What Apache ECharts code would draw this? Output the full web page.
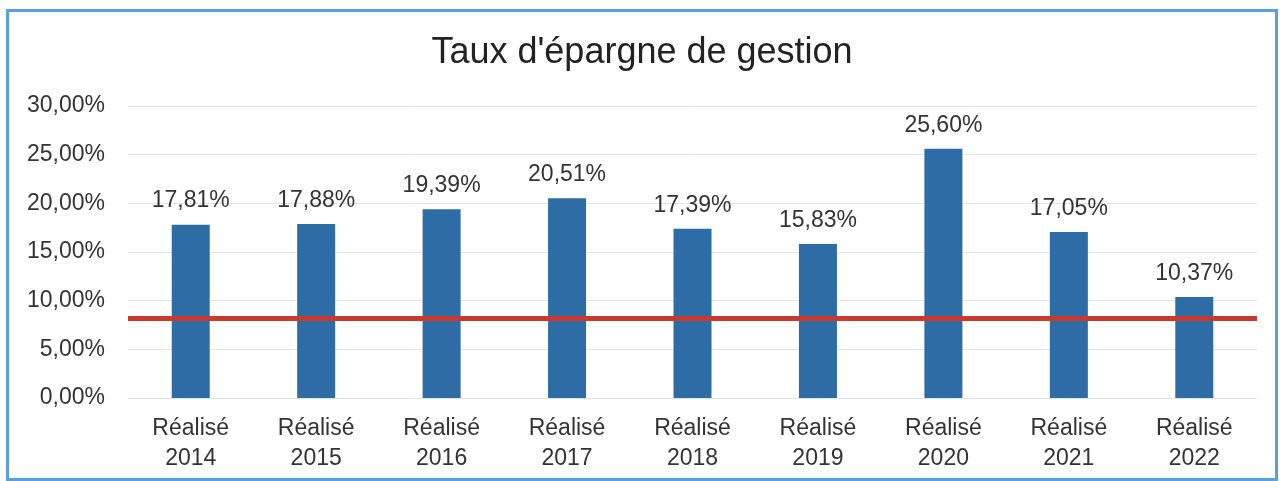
<!DOCTYPE html>
<html>
<head>
<meta charset="utf-8">
<script src="https://cdn.jsdelivr.net/npm/echarts@6/dist/echarts.min.js"></script>
<style>
  html, body { margin: 0; padding: 0; background: #fff; }
  #frame {
    position: absolute; left: 6px; top: 9px; width: 1266px; height: 466px;
    border: 3px solid #5aa0dc; background: #fff;
  }
  #chart { width: 1266px; height: 466px; }
</style>
</head>
<body>
<div id="frame"><div id="chart"></div></div>
<script>
var years = ['2014', '2015', '2016', '2017', '2018', '2019', '2020', '2021', '2022'];
var taux = [17.81, 17.88, 19.39, 20.51, 17.39, 15.83, 25.60, 17.05, 10.37];
var seuil = 8.2;

var fr = function (v) { return v.toFixed(2).replace('.', ',') + '%'; };

var chart = echarts.init(document.getElementById('chart'));
var option = {
  animation: false,
  textStyle: { fontFamily: 'Liberation Sans, Arial, sans-serif' },
  title: {
    text: "Taux d'épargne de gestion",
    left: 'center',
    top: 18,
    textStyle: { fontSize: 36, fontWeight: 'normal', color: '#222' }
  },
  grid: { left: 119, right: 18, top: 94, bottom: 80 },
  xAxis: {
    type: 'category',
    data: years.map(function (y) { return 'Réalisé\n' + y; }),
    axisLine: { show: false },
    axisTick: { show: false },
    axisLabel: { fontSize: 23, color: '#333', lineHeight: 30, margin: 16 }
  },
  yAxis: {
    type: 'value',
    min: 0, max: 30, interval: 5,
    axisLabel: { fontSize: 23, color: '#333', margin: 23, formatter: fr },
    splitLine: { lineStyle: { color: '#e3e3e3', width: 1 } }
  },
  series: [{
    type: 'bar',
    data: taux,
    barWidth: 38,
    itemStyle: { color: '#2e6ca6' },
    label: {
      show: true, position: 'top', distance: 12,
      fontSize: 23, color: '#333',
      formatter: function (p) { return fr(p.value); }
    },
    markLine: {
      symbol: 'none',
      silent: true,
      label: { show: false },
      lineStyle: { color: '#c8392f', width: 5, type: 'solid' },
      data: [{ yAxis: seuil }]
    }
  }]
};
chart.setOption(option);
</script>
</body>
</html>
